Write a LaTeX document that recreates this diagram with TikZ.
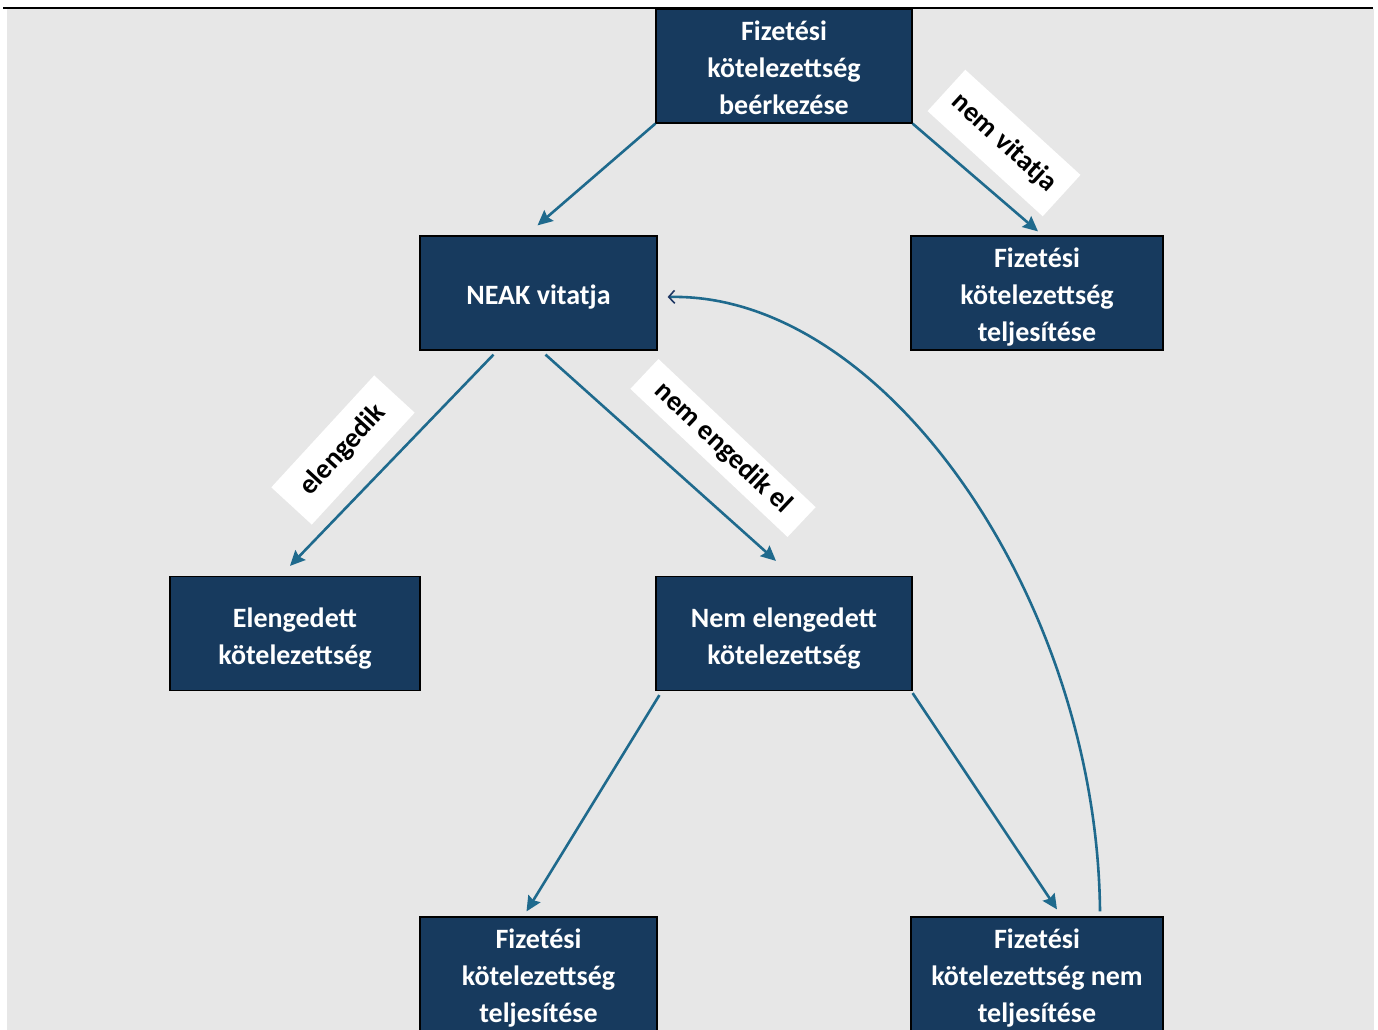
\documentclass[tikz,border=0pt]{standalone}
\usepackage{fontspec}
\setmainfont{Carlito}
\usetikzlibrary{arrows.meta,calc}
\definecolor{boxblue}{HTML}{173A5E}
\definecolor{arrowblue}{HTML}{1F6A8D}
\definecolor{bggray}{HTML}{E7E7E7}
\definecolor{tipnavy}{HTML}{1F3864}
\tikzset{
  box/.style={draw=black, line width=1.2pt, fill=boxblue,
    inner sep=0pt, minimum height=114pt},
  boxtext/.style={text=white, font=\bfseries\fontsize{28}{37}\selectfont,
    align=center, inner sep=0pt},
  lab/.style={fill=white, text=black, font=\bfseries\fontsize{28}{30}\selectfont,
    inner sep=0pt},
  arr/.style={draw=arrowblue, line width=2.6pt,
    -{Stealth[length=15pt,width=14pt,inset=2pt]}},
  curv/.style={draw=arrowblue, line width=2.6pt,
    -{Straight Barb[length=6pt,width=13pt,line width=1.6pt,color=tipnavy]}},
}
\begin{document}
\begin{tikzpicture}[x=1pt,y=-1pt]
\useasboundingbox (0,0) rectangle (1378,1030);
\clip (0,0) rectangle (1378,1030);
\fill[white] (0,0) rectangle (1378,1030);
\fill[bggray] (7,9) rectangle (1374,1030);
\draw[line width=2.6pt] (3,8) -- (1373,8);

% boxes
\node[box, minimum width=256pt] (top) at (784,66) {};
\node[box, minimum width=237pt] (neak) at (538.5,293) {};
\node[box, minimum width=252pt] (rt) at (1037,293) {};
\node[box, minimum width=250pt] (elen) at (295,633.5) {};
\node[box, minimum width=256pt] (nem) at (784,633.5) {};
\node[box, minimum width=237pt] (bl) at (538.5,974) {};
\node[box, minimum width=252pt] (br) at (1037,974) {};

% box texts
\node[boxtext] (topt) at ($(top.center)+(0,2)$) {Fizetési\\kötelezettség\\beérkezése};
\node[boxtext] (neakt) at ($(neak.center)+(0,4)$) {NEAK vitatja};
\node[boxtext] (rtt) at ($(rt.center)+(0,4.5)$) {Fizetési\\kötelezettség\\teljesítése};
\node[boxtext] (elent) at ($(elen.center)+(0,5)$) {Elengedett\\kötelezettség};
\node[boxtext] (nemt) at ($(nem.center)+(0,5)$) {Nem elengedett\\kötelezettség};
\node[boxtext] (blt) at ($(bl.center)+(0,4.5)$) {Fizetési\\kötelezettség\\teljesítése};
\node[boxtext] (brt) at ($(br.center)+(0,4.5)$) {Fizetési\\kötelezettség nem\\teljesítése};

% labels
\node[lab, minimum width=156pt, minimum height=56pt, rotate=-42.4] (lnv) at (1004,143) {nem vitatja};
\node[lab, minimum width=152pt, minimum height=55pt, rotate=47.4] (lel) at (343,450) {elengedik};
\node[lab, minimum width=216pt, minimum height=41pt, rotate=-43.3] (lne) at (723,448) {nem engedik el};

% connectors
\draw[arr] (top.south west) -- ($(neak.north)+(-1,-10)$);
\draw[arr] (top.south east) -- ($(rt.north)+(1,-4)$);
\draw[arr] ($(neak.south)+(-45,4)$) -- ($(elen.north)+(-5,-10)$);
\draw[arr] ($(neak.south)+(7,4)$) -- ($(nem.north)+(-8,-15)$);
\draw[arr] ($(nem.south west)+(4,4)$) -- ($(bl.north)+(-12,-5)$);
\draw[arr] ($(nem.south east)+(0,2)$) -- ($(br.north)+(20,-7)$);
\draw[curv] ($(br.north)+(63,-5)$) .. controls (1097,600) and (885,292) .. ($(neak.east)+(10,4)$);
\end{tikzpicture}
\end{document}
